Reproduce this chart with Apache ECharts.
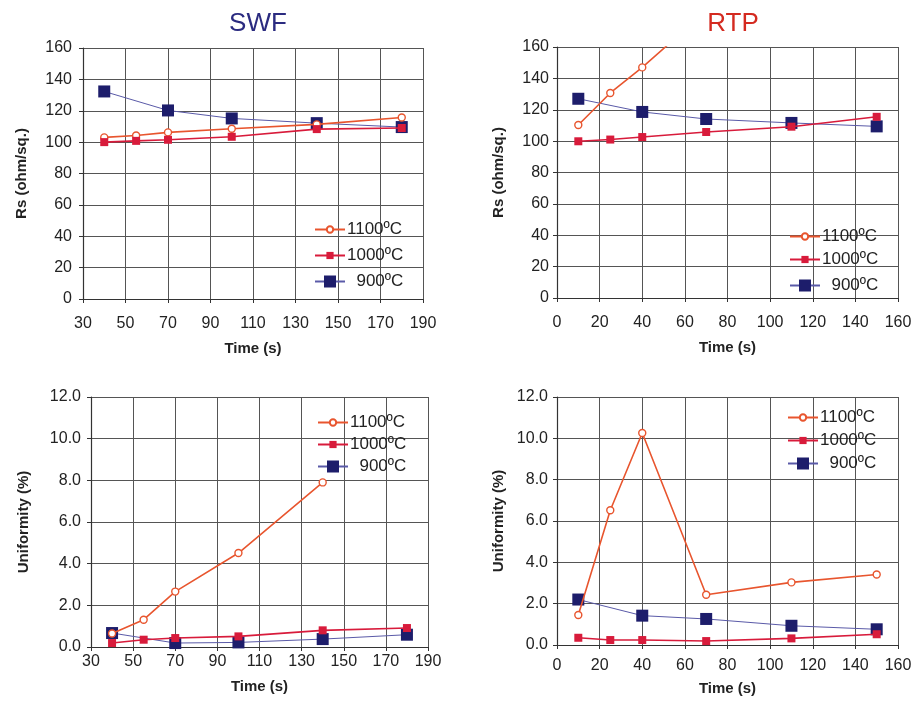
<!DOCTYPE html>
<html>
<head>
<meta charset="utf-8">
<script src="https://cdn.jsdelivr.net/npm/echarts@6/dist/echarts.min.js"></script>
<style>
html,body{margin:0;padding:0;background:#fff;}
#c{width:924px;height:711px;}
</style>
</head>
<body>
<div id="c"></div>
<script>
// ---- data ----
const seriesNames = ['1100ºC', '1000ºC', '900ºC'];

// SWF sheet resistance (Rs, ohm/sq.)
const swfRs1100 = [[40,103],[55,104.2],[70,106.2],[100,108.5],[140,111.3],[180,115.7]];
const swfRs1000 = [[40,100],[55,100.8],[70,101.5],[100,103.4],[140,108.3],[180,109]];
const swfRs900  = [[40,132.3],[70,120.2],[100,115.1],[140,112.1],[180,109.6]];

// RTP sheet resistance (Rs, ohm/sq.)
const rtpRs1100 = [[10,110.3],[25,130.7],[40,147],[70,183]];
const rtpRs1000 = [[10,99.9],[25,101],[40,102.6],[70,105.8],[110,109.2],[150,115.5]];
const rtpRs900  = [[10,127],[40,118.6],[70,114.1],[110,111.6],[150,109.4]];

// SWF uniformity (%)
const swfU1100 = [[40,0.65],[55,1.31],[70,2.66],[100,4.51],[140,7.9]];
const swfU1000 = [[40,0.19],[55,0.35],[70,0.43],[100,0.51],[140,0.8],[180,0.91]];
const swfU900  = [[40,0.67],[70,0.19],[100,0.22],[140,0.38],[180,0.59]];

// RTP uniformity (%)
const rtpU1100 = [[10,1.45],[25,6.52],[40,10.26],[70,2.43],[110,3.03],[150,3.41]];
const rtpU1000 = [[10,0.35],[25,0.24],[40,0.24],[70,0.19],[110,0.32],[150,0.52]];
const rtpU900  = [[10,2.2],[40,1.42],[70,1.26],[110,0.93],[150,0.76]];

const titles = ['SWF', 'RTP'];
const xLabelName = 'Time (s)';
const yNames = ['Rs (ohm/sq.)', 'Rs (ohm/sq.)', 'Uniformity (%)', 'Uniformity (%)'];

// ---- styles ----
const FONT = 'Liberation Sans, Arial, sans-serif';
const C1100 = '#e8552e', C1000 = '#d81b3b', C900 = '#1d1d6b', C900L = '#5a5aa8';

const grids = [
  {left:83, top:48, width:340, height:251},
  {left:557, top:47, width:341, height:251},
  {left:91, top:397, width:337, height:250},
  {left:557, top:397, width:341, height:248}
];
const xCfg = [
  {min:30, max:190, interval:20, margin:17, nameGap:42},
  {min:0, max:160, interval:20, margin:17, nameGap:42},
  {min:30, max:190, interval:20, margin:7, nameGap:32},
  {min:0, max:160, interval:20, margin:13, nameGap:36}
];
const yCfg = [
  {min:0, max:160, interval:20, margin:11, nameGap:54, dec:0},
  {min:0, max:160, interval:20, margin:8, nameGap:51, dec:0},
  {min:0, max:12, interval:2, margin:10, nameGap:60, dec:1},
  {min:0, max:12, interval:2, margin:9, nameGap:51, dec:1}
];
// legend item positions: left of icon, and vertical centres of the three rows
const legendPos = [
  {left:309, rows:[229, 255, 281]},
  {left:784, rows:[236, 259, 285]},
  {left:312, rows:[422, 444, 466]},
  {left:782, rows:[417, 440, 463]}
];
const legendIconH = [8, 9, 15];

const gridLine = {show:true, lineStyle:{color:'#555', width:1}};
const axisLine = {show:true, lineStyle:{color:'#333', width:1.2}};

const xAxes = xCfg.map((c,i)=>({
  type:'value', gridIndex:i, min:c.min, max:c.max, interval:c.interval,
  name:xLabelName, nameLocation:'middle', nameGap:c.nameGap,
  nameTextStyle:{fontFamily:FONT, fontSize:15, fontWeight:'bold', color:'#222'},
  axisLine:axisLine, axisTick:{show:true, inside:false, length:4, lineStyle:{color:'#333'}},
  splitLine:gridLine,
  axisLabel:{margin:c.margin, fontFamily:FONT, fontSize:16, color:'#222'}
}));
const yAxes = yCfg.map((c,i)=>({
  type:'value', gridIndex:i, min:c.min, max:c.max, interval:c.interval,
  name:yNames[i], nameLocation:'middle', nameGap:c.nameGap, nameRotate:90,
  nameTextStyle:{fontFamily:FONT, fontSize:15, fontWeight:'bold', color:'#222'},
  axisLine:axisLine, axisTick:{show:true, length:4, lineStyle:{color:'#333'}},
  splitLine:gridLine,
  axisLabel:{margin:c.margin, fontFamily:FONT, fontSize:16, color:'#222',
    formatter:v=>v.toFixed(c.dec)}
}));

function mk(name, data, idx){
  const base = {name:name, type:'line', xAxisIndex:idx, yAxisIndex:idx, data:data,
    clip:true, animation:false};
  if (name === seriesNames[0]) {
    return Object.assign(base, {symbol:'circle', symbolSize:7,
      lineStyle:{color:C1100, width:1.6},
      itemStyle:{color:'#fff', borderColor:C1100, borderWidth:1.4}, z:3});
  } else if (name === seriesNames[1]) {
    return Object.assign(base, {symbol:'rect', symbolSize:8,
      lineStyle:{color:C1000, width:1.6},
      itemStyle:{color:C1000, borderColor:C1000, borderWidth:0}, z:4});
  } else {
    return Object.assign(base, {symbol:'rect', symbolSize:12,
      lineStyle:{color:C900L, width:1},
      itemStyle:{color:C900, borderColor:C900, borderWidth:0}, z:2});
  }
}
const panels = [
  [swfRs1100, swfRs1000, swfRs900],
  [rtpRs1100, rtpRs1000, rtpRs900],
  [swfU1100, swfU1000, swfU900],
  [rtpU1100, rtpU1000, rtpU900]
];
const series = [];
panels.forEach((p,i)=>{
  p.forEach((d,k)=>series.push(mk(seriesNames[k], d, i)));
});

// one legend per row so each icon gets its own size
const legends = [];
legendPos.forEach(p=>{
  seriesNames.forEach((n,k)=>{
    const h = legendIconH[k];
    legends.push({
      left:p.left, top:p.rows[k] - 13, orient:'vertical', padding:5,
      itemWidth:30, itemHeight:h,
      data:[n], selectedMode:false,
      textStyle:{fontFamily:FONT, fontSize:17, color:'#222', padding:[0,0,0,-3]},
      formatter:s=> s === seriesNames[2] ? '  ' + s : s
    });
  });
});

const option = {
  backgroundColor:'#fff',
  animation:false,
  title:[
    {text:titles[0], left:253, top:6, textAlign:'center',
     textStyle:{fontFamily:FONT, fontSize:26, fontWeight:'normal', color:'#2b2b80'}},
    {text:titles[1], left:728, top:6, textAlign:'center',
     textStyle:{fontFamily:FONT, fontSize:26, fontWeight:'normal', color:'#d42a20'}}
  ],
  grid:grids,
  xAxis:xAxes,
  yAxis:yAxes,
  legend:legends,
  series:series
};
const chart = echarts.init(document.getElementById('c'), null, {renderer:'canvas'});
chart.setOption(option);
</script>
</body>
</html>
